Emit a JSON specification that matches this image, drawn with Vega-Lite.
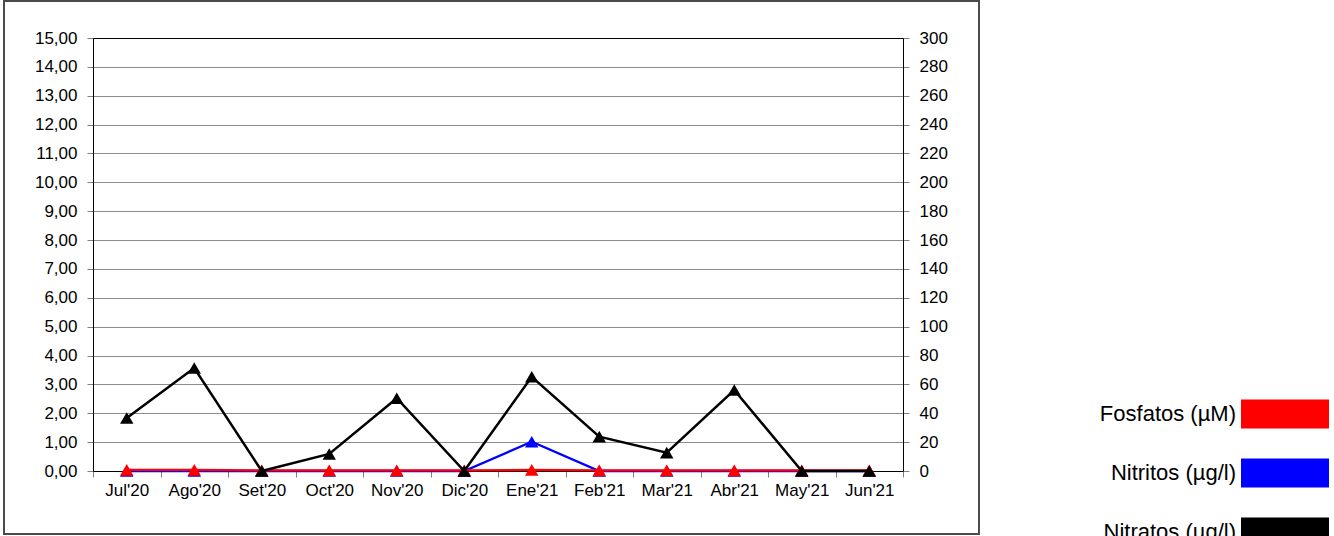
{
  "$schema": "https://vega.github.io/schema/vega-lite/v6.json",
  "width": 810,
  "height": 433,
  "autosize": {"type": "none"},
  "padding": {"left": 93, "top": 38, "right": 431, "bottom": 65},
  "background": "white",
  "data": {
    "values": [
      {"mes": "Jul'20", "serie": "Fosfatos (µM)", "valor": 0.04},
      {"mes": "Ago'20", "serie": "Fosfatos (µM)", "valor": 0.04},
      {"mes": "Set'20", "serie": "Fosfatos (µM)", "valor": 0.02},
      {"mes": "Oct'20", "serie": "Fosfatos (µM)", "valor": 0.02},
      {"mes": "Nov'20", "serie": "Fosfatos (µM)", "valor": 0.02},
      {"mes": "Dic'20", "serie": "Fosfatos (µM)", "valor": 0.02},
      {"mes": "Ene'21", "serie": "Fosfatos (µM)", "valor": 0.04},
      {"mes": "Feb'21", "serie": "Fosfatos (µM)", "valor": 0.02},
      {"mes": "Mar'21", "serie": "Fosfatos (µM)", "valor": 0.02},
      {"mes": "Abr'21", "serie": "Fosfatos (µM)", "valor": 0.02},
      {"mes": "May'21", "serie": "Fosfatos (µM)", "valor": 0.02},
      {"mes": "Jun'21", "serie": "Fosfatos (µM)", "valor": 0.02},
      {"mes": "Jul'20", "serie": "Nitritos (µg/l)", "valor": 0},
      {"mes": "Ago'20", "serie": "Nitritos (µg/l)", "valor": 0},
      {"mes": "Set'20", "serie": "Nitritos (µg/l)", "valor": 0},
      {"mes": "Oct'20", "serie": "Nitritos (µg/l)", "valor": 0},
      {"mes": "Nov'20", "serie": "Nitritos (µg/l)", "valor": 0},
      {"mes": "Dic'20", "serie": "Nitritos (µg/l)", "valor": 0},
      {"mes": "Ene'21", "serie": "Nitritos (µg/l)", "valor": 20.3},
      {"mes": "Feb'21", "serie": "Nitritos (µg/l)", "valor": 0},
      {"mes": "Mar'21", "serie": "Nitritos (µg/l)", "valor": 0},
      {"mes": "Abr'21", "serie": "Nitritos (µg/l)", "valor": 0},
      {"mes": "May'21", "serie": "Nitritos (µg/l)", "valor": 0},
      {"mes": "Jun'21", "serie": "Nitritos (µg/l)", "valor": 0},
      {"mes": "Jul'20", "serie": "Nitratos (µg/l)", "valor": 36.7},
      {"mes": "Ago'20", "serie": "Nitratos (µg/l)", "valor": 71.4},
      {"mes": "Set'20", "serie": "Nitratos (µg/l)", "valor": 0},
      {"mes": "Oct'20", "serie": "Nitratos (µg/l)", "valor": 11.8},
      {"mes": "Nov'20", "serie": "Nitratos (µg/l)", "valor": 50.4},
      {"mes": "Dic'20", "serie": "Nitratos (µg/l)", "valor": 0},
      {"mes": "Ene'21", "serie": "Nitratos (µg/l)", "valor": 65.3},
      {"mes": "Feb'21", "serie": "Nitratos (µg/l)", "valor": 23.8},
      {"mes": "Mar'21", "serie": "Nitratos (µg/l)", "valor": 12.7},
      {"mes": "Abr'21", "serie": "Nitratos (µg/l)", "valor": 56.1},
      {"mes": "May'21", "serie": "Nitratos (µg/l)", "valor": 0},
      {"mes": "Jun'21", "serie": "Nitratos (µg/l)", "valor": 0}
    ]
  },
  "encoding": {
    "x": {
      "field": "mes",
      "type": "nominal",
      "sort": null,
      "bandPosition": 0.5,
      "scale": {
        "type": "band",
        "domain": ["Jul'20", "Ago'20", "Set'20", "Oct'20", "Nov'20", "Dic'20", "Ene'21", "Feb'21", "Mar'21", "Abr'21", "May'21", "Jun'21"],
        "paddingInner": 0,
        "paddingOuter": 0
      },
      "axis": {
        "title": null,
        "tickBand": "extent",
        "labelAngle": 0,
        "labelPadding": 5,
        "tickSize": 6,
        "grid": false
      }
    },
    "color": {
      "field": "serie",
      "type": "nominal",
      "scale": {
        "domain": ["Fosfatos (µM)", "Nitritos (µg/l)", "Nitratos (µg/l)"],
        "range": ["#ff0000", "#0000ff", "#000000"]
      },
      "legend": {
        "orient": "none",
        "legendX": 1055,
        "legendY": 332,
        "title": null,
        "symbolType": "M-1,-0.33H1V0.33H-1Z",
        "symbolSize": 7744,
        "symbolStrokeWidth": 0,
        "symbolOffset": 93,
        "labelOffset": -93,
        "labelAlign": "right",
        "labelFontSize": 22,
        "labelFont": "Liberation Sans",
        "labelColor": "black",
        "labelLimit": 400,
        "rowPadding": -2,
        "padding": 0,
        "encode": {
          "symbols": {
            "update": {
              "fill": {"scale": "color", "field": "value"},
              "stroke": {"value": "transparent"},
              "opacity": {"value": 1}
            }
          }
        }
      }
    }
  },
  "layer": [
    {
      "transform": [{"filter": "false"}],
      "mark": {"type": "point", "filled": true},
      "encoding": {
        "fill": {
          "field": "valor",
          "type": "quantitative",
          "scale": {"domain": [0, 1], "range": ["rgba(0,0,0,0)", "rgba(0,0,0,0)"]},
          "legend": {
            "orient": "none",
            "legendX": -89,
            "legendY": -37,
            "direction": "vertical",
            "title": null,
            "padding": 0,
            "gradientLength": 533,
            "gradientThickness": 975,
            "gradientStrokeColor": "#000000",
            "gradientStrokeWidth": 2,
            "labelExpr": "''",
            "labelOpacity": 0
          }
        }
      }
    },
    {
      "transform": [{"filter": "datum.serie === 'Nitritos (µg/l)'"}],
      "mark": {"type": "line", "strokeWidth": 2.3, "point": {"shape": "triangle-up", "filled": true, "size": 180}},
      "encoding": {
        "y": {"field": "valor", "type": "quantitative", "scale": {"domain": [0, 300], "nice": false}, "axis": null}
      }
    },
    {
      "transform": [{"filter": "datum.serie === 'Fosfatos (µM)'"}],
      "mark": {"type": "line", "strokeWidth": 2.3, "point": {"shape": "triangle-up", "filled": true, "size": 180}},
      "encoding": {
        "y": {
          "field": "valor",
          "type": "quantitative",
          "scale": {"domain": [0, 15], "nice": false},
          "axis": {
            "orient": "left",
            "title": null,
            "values": [0, 1, 2, 3, 4, 5, 6, 7, 8, 9, 10, 11, 12, 13, 14, 15],
            "format": ".2f",
            "grid": true,
            "gridColor": {"condition": {"test": "datum.value === 15", "value": "#000000"}, "value": "#8c8c8c"},
            "labelPadding": 10,
            "tickSize": 6
          }
        }
      }
    },
    {
      "transform": [{"filter": "datum.serie === 'Nitratos (µg/l)'"}],
      "mark": {"type": "line", "strokeWidth": 2.5, "point": {"shape": "triangle-up", "filled": true, "size": 180}},
      "encoding": {
        "y": {
          "field": "valor",
          "type": "quantitative",
          "scale": {"domain": [0, 300], "nice": false},
          "axis": {
            "orient": "right",
            "title": null,
            "values": [0, 20, 40, 60, 80, 100, 120, 140, 160, 180, 200, 220, 240, 260, 280, 300],
            "format": "d",
            "grid": false,
            "labelPadding": 10,
            "tickSize": 6
          }
        }
      }
    }
  ],
  "resolve": {"scale": {"y": "independent"}, "axis": {"y": "independent"}},
  "config": {
    "font": "Liberation Sans",
    "locale": {
      "number": {"decimal": ",", "thousands": ".", "grouping": [3], "currency": ["", " €"]}
    },
    "view": {"stroke": "#000000", "strokeWidth": 1},
    "axis": {
      "labelFont": "Liberation Sans",
      "labelFontSize": 17,
      "labelColor": "#000000",
      "domainColor": "#000000",
      "domainWidth": 1,
      "tickColor": "#808080",
      "tickWidth": 1
    }
  }
}
